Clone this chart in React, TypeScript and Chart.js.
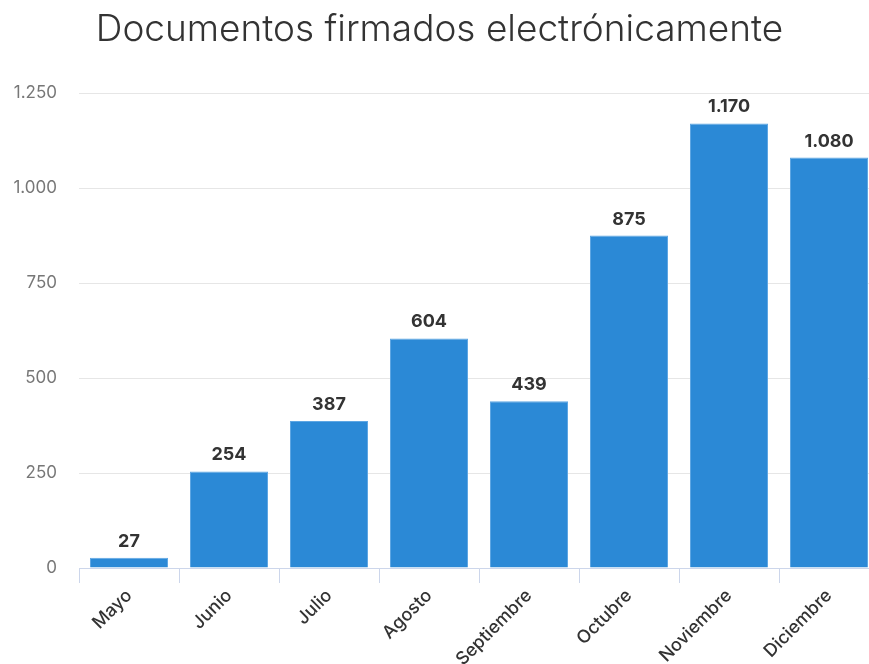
import React, { useEffect, useRef } from "react";
import { Chart, registerables } from "chart.js";

Chart.register(...registerables);

const TITLE = "Documentos firmados electrónicamente";
const categories = ["Mayo", "Junio", "Julio", "Agosto", "Septiembre", "Octubre", "Noviembre", "Diciembre"];
const values = [27, 254, 387, 604, 439, 875, 1170, 1080];
const yMax = 1250;
const yStep = 250;

const FONT = "Inter, 'Noto Sans', sans-serif";

function fmt(n: number): string {
  const s = Math.round(n).toString();
  return s.replace(/\B(?=(\d{3})+(?!\d))/g, ".");
}

const dataLabels = {
  id: "dataLabels",
  afterDatasetsDraw(chart: any) {
    const ctx = chart.ctx;
    const meta = chart.getDatasetMeta(0);
    ctx.save();
    ctx.font = `700 18px ${FONT}`;
    ctx.fillStyle = "#333333";
    ctx.textAlign = "center";
    ctx.textBaseline = "alphabetic";
    meta.data.forEach((el: any, i: number) => {
      ctx.fillText(fmt(values[i]), el.x, el.y - 11);
    });
    ctx.restore();
  },
};

export default function App() {
  const ref = useRef<HTMLCanvasElement | null>(null);
  useEffect(() => {
    document.body.style.margin = "0";
    const canvas = ref.current!;
    const chart = new Chart(canvas, {
      type: "bar",
      data: {
        labels: categories,
        datasets: [
          {
            data: values,
            backgroundColor: "#2b89d6",
            borderColor: "#5ea6e3",
            borderWidth: 1,
            categoryPercentage: 0.8,
            barPercentage: 0.975,
          },
        ],
      },
      plugins: [dataLabels],
      options: {
        animation: false,
        responsive: false,
        layout: { padding: { top: 8, right: 0, left: 0, bottom: 0 } },
        plugins: {
          legend: { display: false },
          tooltip: { enabled: false },
          title: {
            display: true,
            text: TITLE,
            color: "#333333",
            font: { family: FONT, size: 37, weight: "300", lineHeight: 1.2 },
            padding: { top: 0, bottom: 40.6 },
          },
        },
        scales: {
          x: {
            grid: {
              drawOnChartArea: false,
              drawTicks: true,
              tickLength: 15,
              color: "#ccd6eb",
              offset: true,
            },
            border: { display: true, color: "#ccd6eb", width: 1 },
            ticks: {
              color: "#333333",
              font: { family: FONT, size: 18, weight: "500" },
              maxRotation: 45,
              minRotation: 45,
              padding: 2,
            },
            afterFit: (s: any) => {
              s.height = 96;
            },
          },
          y: {
            min: 0,
            max: yMax,
            grid: { color: "#e6e6e6", drawTicks: false },
            border: { display: false },
            ticks: {
              stepSize: yStep,
              color: "#777777",
              font: { family: FONT, size: 17 },
              padding: 22,
              callback: (v: any) => fmt(Number(v)),
            },
            afterFit: (s: any) => {
              s.width = 79;
            },
          },
        },
      },
    });
    return () => chart.destroy();
  }, []);
  return (
    <div style={{ width: 869, height: 664, overflow: "hidden" }}>
      <canvas ref={ref} width={879} height={664} style={{ display: "block" }} />
    </div>
  );
}
